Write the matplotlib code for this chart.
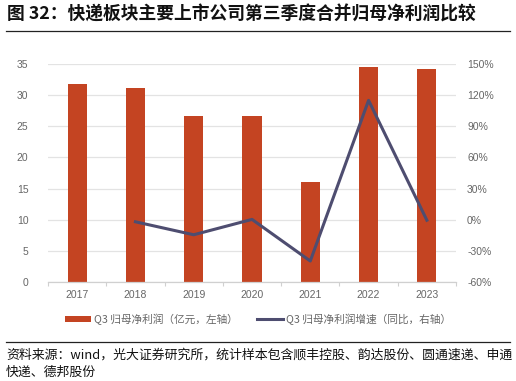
import matplotlib
matplotlib.use("Agg")
import matplotlib.pyplot as plt
from matplotlib.lines import Line2D
from matplotlib.patches import Patch

plt.rcParams['font.family'] = ['Noto Sans CJK SC', 'DejaVu Sans']

years = ["2017", "2018", "2019", "2020", "2021", "2022", "2023"]
profit = [31.8, 31.2, 26.6, 26.7, 16.0, 34.5, 34.2]
growth_years = ["2018", "2019", "2020", "2021", "2022", "2023"]
growth = [-2.0, -14.5, 0.3, -39.8, 115.0, -0.5]
left_ticks = [0, 5, 10, 15, 20, 25, 30, 35]
right_ticks = [-60, -30, 0, 30, 60, 90, 120, 150]

bar_color = "#C44422"
line_color = "#4E4D70"
tick_color = "#666666"
grid_color = "#E3E3E3"
tick_font = ['Liberation Sans', 'DejaVu Sans']

W, H = 516, 381
fig = plt.figure(figsize=(W / 100, H / 100), dpi=100)
ax = fig.add_axes([48 / W, 1 - 282 / H, (456 - 48) / W, (282 - 64) / H])

x = list(range(len(years)))
ax.bar(x, profit, width=0.33, color=bar_color, zorder=2)
ax.set_xlim(-0.5, len(years) - 0.5)
ax.set_ylim(0, 35)
ax.set_yticks(left_ticks)
ax.set_yticklabels([str(t) for t in left_ticks], family=tick_font)
ax.set_xticks(x)
ax.set_xticklabels(years, family=tick_font)
ax.set_xticks([i + 0.5 for i in range(-1, len(years))], minor=True)
ax.tick_params(axis='x', which='major', length=0, pad=6, labelsize=7.5, labelcolor=tick_color)
ax.tick_params(axis='x', which='minor', length=3, color="#D0D0D0", width=0.8)
ax.tick_params(axis='y', length=0, pad=14, labelsize=7.5, labelcolor=tick_color)
ax.grid(axis='y', color=grid_color, linewidth=0.9, zorder=0)
for s in ['top', 'right', 'left']:
    ax.spines[s].set_visible(False)
ax.spines['bottom'].set_color("#D0D0D0")
ax.spines['bottom'].set_linewidth(0.9)

ax2 = ax.twinx()
gx = [years.index(y) for y in growth_years]
ax2.plot(gx, growth, color=line_color, linewidth=2.2, zorder=3)
ax2.set_ylim(-60, 150)
ax2.set_yticks(right_ticks)
ax2.set_yticklabels([f"{t}%" for t in right_ticks], family=tick_font)
ax2.tick_params(axis='y', length=0, pad=8, labelsize=7.5, labelcolor=tick_color)
for s in ['top', 'right', 'left', 'bottom']:
    ax2.spines[s].set_visible(False)

# Title
fig.text(7 / W, 1 - 15 / H, "图 32：快递板块主要上市公司第三季度合并归母净利润比较",
         fontsize=12.8, fontweight='bold', va='center', ha='left', color="#111111")
fig.add_artist(Line2D([6 / W, 510 / W], [1 - 31 / H, 1 - 31 / H], color="#222222", linewidth=0.9))

# Legend
handles = [Patch(facecolor=bar_color, edgecolor='none'),
           Line2D([0], [0], color=line_color, linewidth=2.2)]
labels = ["Q3 归母净利润（亿元，左轴）", "Q3 归母净利润增速（同比，右轴）"]
fig.legend(handles, labels, loc='center', bbox_to_anchor=(258 / W, 1 - 319 / H),
           ncol=2, frameon=False, fontsize=7.7, labelcolor=tick_color,
           handlelength=2.4, handleheight=0.5, columnspacing=1.8, handletextpad=0.3)

# Source
fig.add_artist(Line2D([6 / W, 510 / W], [1 - 342 / H, 1 - 342 / H], color="#222222", linewidth=0.9))
fig.text(6 / W, 1 - 355 / H,
         "资料来源：wind，光大证券研究所，统计样本包含顺丰控股、韵达股份、圆通速递、申通",
         fontsize=9.3, va='center', ha='left', color="#111111")
fig.text(6 / W, 1 - 372 / H, "快递、德邦股份",
         fontsize=9.3, va='center', ha='left', color="#111111")

fig.savefig("out.png", dpi=100)
